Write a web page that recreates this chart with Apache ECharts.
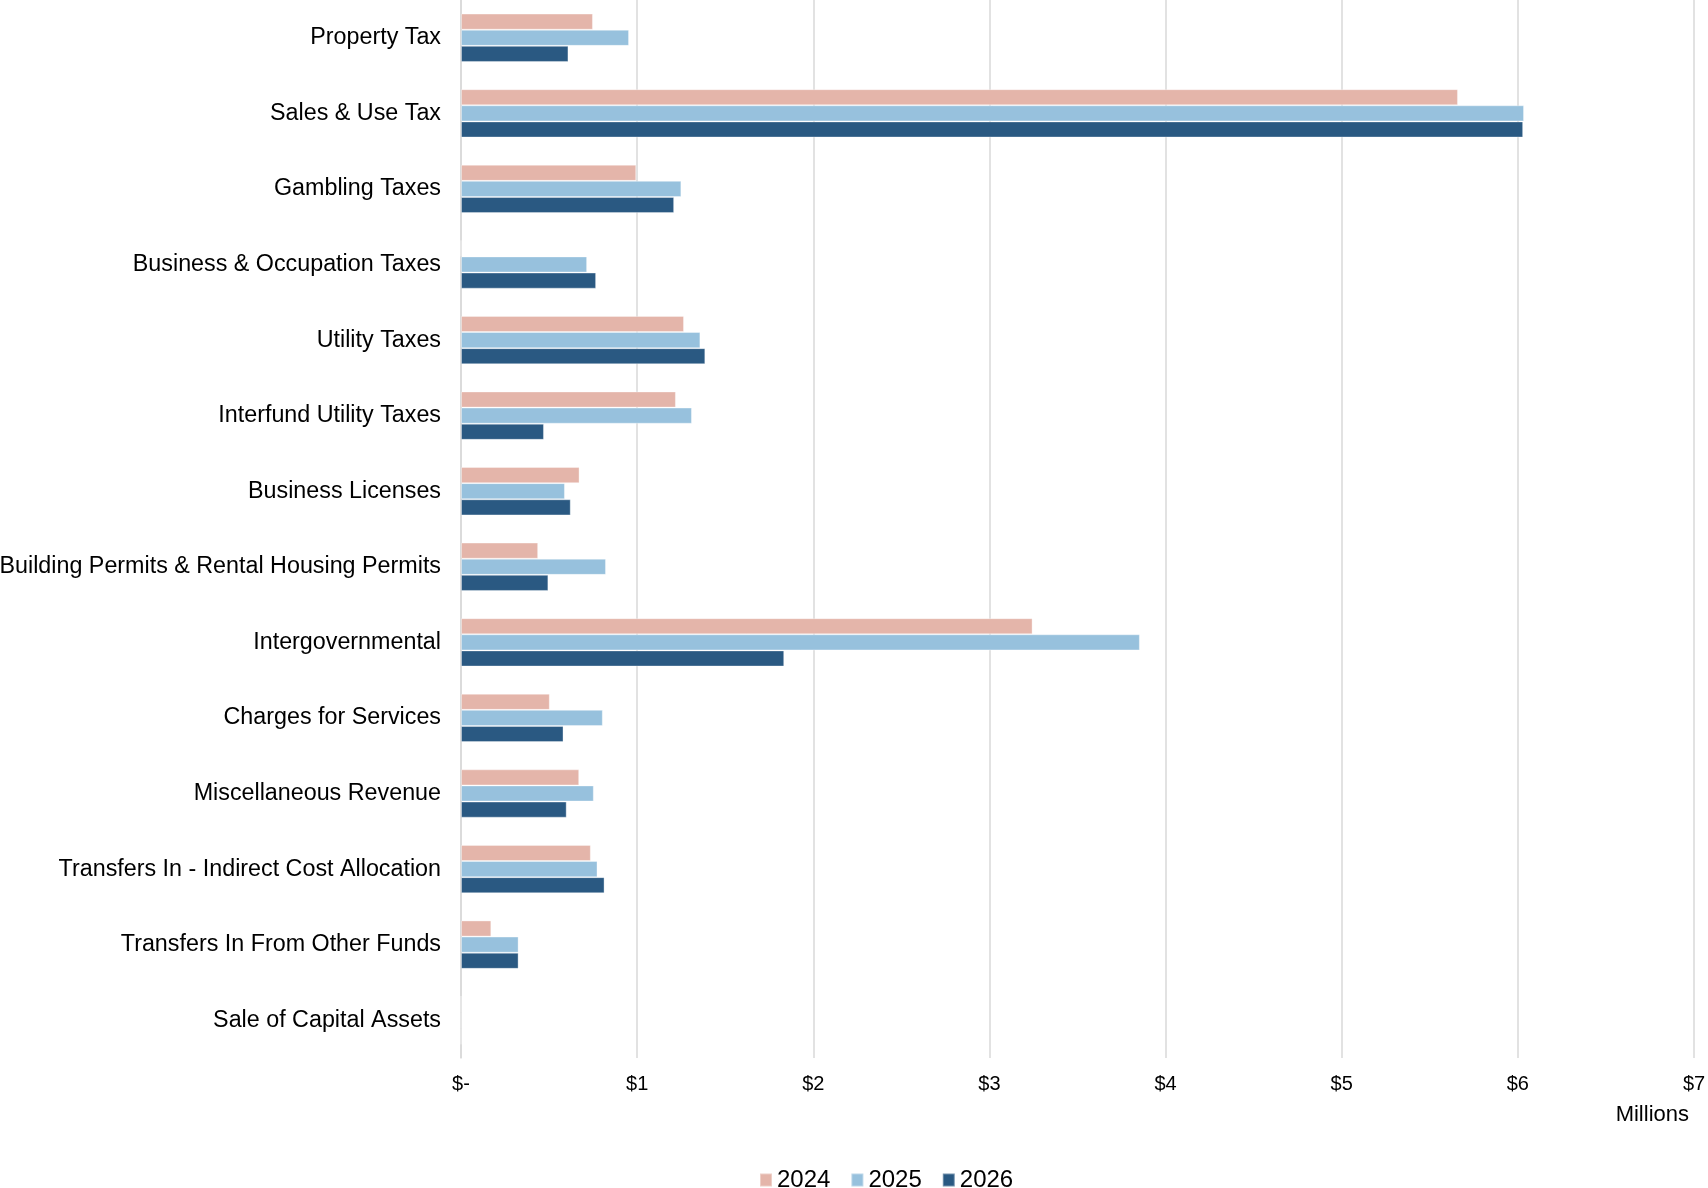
<!DOCTYPE html>
<html>
<head>
<meta charset="utf-8">
<script src="https://cdn.jsdelivr.net/npm/echarts@6/dist/echarts.min.js"></script>
<style>
html,body{margin:0;padding:0;background:#fff;}
#chart{width:1708px;height:1188px;}
</style>
</head>
<body>
<div id="chart"></div>
<script>
const categories = [
  "Property Tax",
  "Sales & Use Tax",
  "Gambling Taxes",
  "Business & Occupation Taxes",
  "Utility Taxes",
  "Interfund Utility Taxes",
  "Business Licenses",
  "Building Permits & Rental Housing Permits",
  "Intergovernmental",
  "Charges for Services",
  "Miscellaneous Revenue",
  "Transfers In - Indirect Cost Allocation",
  "Transfers In From Other Funds",
  "Sale of Capital Assets"
];
const values2024 = [0.749, 5.66, 0.995, 0, 1.266, 1.220, 0.673, 0.438, 3.245, 0.504, 0.671, 0.737, 0.172, 0];
const values2025 = [0.954, 6.035, 1.251, 0.716, 1.359, 1.311, 0.590, 0.823, 3.854, 0.805, 0.754, 0.775, 0.327, 0];
const values2026 = [0.610, 6.03, 1.210, 0.767, 1.387, 0.471, 0.623, 0.496, 1.835, 0.582, 0.600, 0.815, 0.327, 0];
const seriesNames = ["2024", "2025", "2026"];
const xTickLabels = ["$-", "$1", "$2", "$3", "$4", "$5", "$6", "$7"];

const colors = ["#E4B5AA", "#97C1DD", "#2A5982"];
const font = "Liberation Sans, Arial, sans-serif";

const chart = echarts.init(document.getElementById('chart'), null, {renderer: 'canvas'});
const data = [values2024, values2025, values2026];
chart.setOption({
  animation: false,
  backgroundColor: '#ffffff',
  grid: {left: 461, right: 14, top: 0, bottom: 130, containLabel: false, outerBoundsMode: 'none'},
  legend: {
    data: seriesNames,
    left: 754,
    top: 1163,
    itemWidth: 12,
    itemHeight: 13,
    itemGap: 20,
    icon: 'rect',
    textStyle: {fontFamily: font, fontSize: 24, color: '#000'}
  },
  xAxis: {
    type: 'value',
    min: 0,
    max: 7,
    interval: 1,
    axisLine: {show: false},
    axisTick: {show: false},
    splitLine: {show: true, lineStyle: {color: '#D9D9D9', width: 1.5}},
    axisLabel: {
      fontFamily: font, fontSize: 20, color: '#000', margin: 16,
      formatter: function (v) { return xTickLabels[Math.round(v)]; }
    }
  },
  yAxis: {
    type: 'category',
    data: categories,
    inverse: true,
    axisLine: {show: true, lineStyle: {color: '#D9D9D9', width: 1.5}},
    axisTick: {show: false},
    axisLabel: {fontFamily: font, fontSize: 23.3, color: '#000', margin: 20}
  },
  graphic: [{
    type: 'text',
    right: 19,
    top: 1104,
    style: {text: 'Millions', fontFamily: font, fontSize: 22, fill: '#000'}
  }],
  series: seriesNames.map((n, i) => ({
    name: n,
    type: 'bar',
    data: data[i],
    barGap: '0%',
    barCategoryGap: '36%',
    itemStyle: {color: colors[i], borderColor: 'rgba(255,255,255,0.35)', borderWidth: 1}
  }))
});
</script>
</body>
</html>
